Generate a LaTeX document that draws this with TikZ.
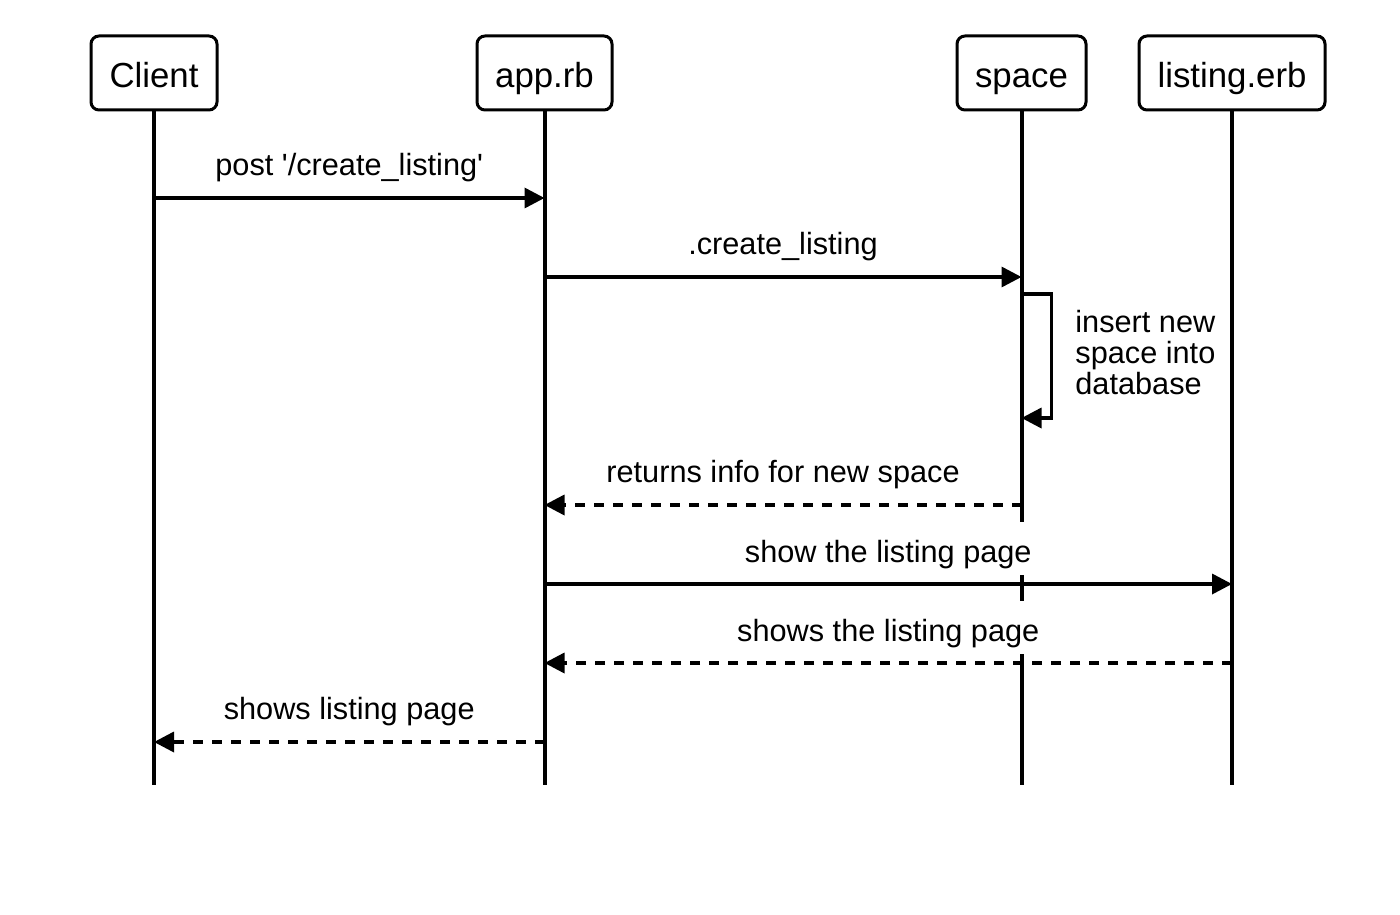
\documentclass[tikz,border=0pt]{standalone}
\usepackage{fontspec}
\setmainfont{Liberation Sans}
\usetikzlibrary{arrows.meta}
\begin{document}
\begin{tikzpicture}[x=0.5pt,y=-0.5pt,
  actor/.style={draw,line width=1.5pt,rounded corners=4pt,inner sep=0pt,
    minimum height=37pt,text height=16pt,text depth=1pt,
    font=\fontsize{17.4}{20}\selectfont},
  life/.style={line width=2pt},
  msg/.style={line width=1.75pt,-{Triangle[length=10pt,width=10pt]}},
  ret/.style={msg,dash pattern=on 5pt off 4.5pt},
  lbl/.style={fill=white,text height=20pt,text depth=6.5pt,inner xsep=2pt,
    inner ysep=0pt,anchor=base,font=\fontsize{15.35}{18}\selectfont}]
\useasboundingbox (0,0) rectangle (1400,914);
% actors
\node[actor,minimum width=63pt] (client) at (154,73) {Client};
\node[actor,minimum width=67.5pt] (app) at (544.5,73) {app.rb};
\node[actor,minimum width=64.5pt] (space) at (1021.5,73) {space};
\node[actor,minimum width=93pt] (listing) at (1232,73) {listing.erb};
% level coordinates
\coordinate (bot) at (0,785);
\coordinate (m1) at (0,198);
\coordinate (m2) at (0,277);
\coordinate (s1) at (0,294);
\coordinate (s2) at (0,418);
\coordinate (m3) at (0,505);
\coordinate (m4) at (0,584);
\coordinate (m5) at (0,663);
\coordinate (m6) at (0,742);
% lifelines
\draw[life] (client.south) -- (client.south |- bot);
\draw[life] (app.south) -- (app.south |- bot);
\draw[life] (space.south) -- (space.south |- bot);
\draw[life] (listing.south) -- (listing.south |- bot);
% messages
\draw[msg] (client |- m1) -- (app |- m1);
\path (client |- m1) -- (app |- m1) node[lbl,midway,yshift=11.25pt] (l1) {post \textquotesingle/create\_listing\textquotesingle};
\draw[msg] (app |- m2) -- (space |- m2);
\path (app |- m2) -- (space |- m2) node[lbl,midway,yshift=11.25pt] (l2) {.create\_listing};
\draw[msg] (space |- s1) -- ++(30,0) |- (space |- s2);
\node[anchor=west,align=left,inner sep=0pt,font=\fontsize{15.35}{15.5}\selectfont] (l3) at (1075,353) {insert new\\space into\\database};
\draw[ret] (space |- m3) -- (app |- m3);
\path (app |- m3) -- (space |- m3) node[lbl,midway,yshift=11.25pt] (l4) {returns info for new space};
\draw[msg] (app |- m4) -- (listing |- m4);
\path (app |- m4) -- (listing |- m4) node[lbl,midway,yshift=11pt] (l5) {show the listing page};
\draw[ret] (listing |- m5) -- (app |- m5);
\path (app |- m5) -- (listing |- m5) node[lbl,midway,yshift=11pt] (l6) {shows the listing page};
\draw[ret] (app |- m6) -- (client |- m6);
\path (client |- m6) -- (app |- m6) node[lbl,midway,yshift=11.25pt] (l7) {shows listing page};
\end{tikzpicture}
\end{document}
